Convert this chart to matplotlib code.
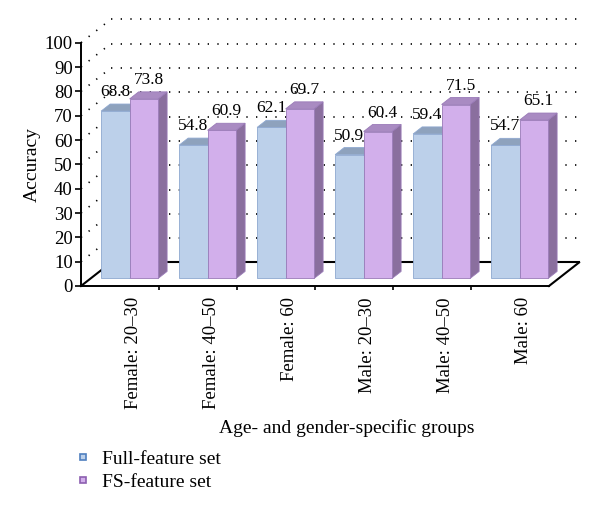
import matplotlib
matplotlib.use("Agg")
import matplotlib.pyplot as plt
from matplotlib.patches import Polygon, Rectangle
from matplotlib.lines import Line2D

groups = ["Female: 20\u201330", "Female: 40\u201350", "Female: 60",
          "Male: 20\u201330", "Male: 40\u201350", "Male: 60"]
full_set = [68.8, 54.8, 62.1, 50.9, 59.4, 54.7]
fs_set = [73.8, 60.9, 69.7, 60.4, 71.5, 65.1]
yticks = list(range(0, 101, 10))

plt.rcParams["font.family"] = "serif"
plt.rcParams["font.serif"] = ["Liberation Serif", "DejaVu Serif"]

W, H = 600, 517
fig = plt.figure(figsize=(W / 100, H / 100), dpi=100)
ax = fig.add_axes([81 / W, (H - 286) / H, 468 / W, 243.3 / H])
n = len(groups)
ax.set_xlim(0, n); ax.set_ylim(0, 100)

# depth of the fake 3D box (data units)
dx, dy = 0.385, 9.66
front, depth, bw = 0.32, 0.30, 0.365

dot = dict(color="black", lw=1.2, ls=(0, (0.8, 5)), clip_on=False, zorder=1)
for v in yticks[1:]:
    ax.plot([0, dx], [v, v + dy], **dot)
    ax.plot([dx, n + dx], [v + dy, v + dy], **dot)
solid = dict(color="black", lw=1.5, clip_on=False, zorder=1)
ax.plot([0, dx], [0, dy], **solid)
ax.plot([dx, n + dx], [dy, dy], **solid)
ax.plot([n, n + dx], [0, dy], **solid)

blue = dict(front="#bcd0ea", top="#8ea2bd", side="#7f93b0", edge="#8ea8d0")
purp = dict(front="#d2afeb", top="#a98bc2", side="#8a6f9e", edge="#9a7bb8")


def bar3d(x0, v, col):
    base = front * dy
    bx, by = depth * dx, depth * dy
    top = [(x0, base + v), (x0 + bw, base + v), (x0 + bw + bx, base + v + by), (x0 + bx, base + v + by)]
    side = [(x0 + bw, base), (x0 + bw, base + v), (x0 + bw + bx, base + v + by), (x0 + bw + bx, base + by)]
    ax.add_patch(Polygon(side, fc=col["side"], ec=col["edge"], lw=0.6, clip_on=False, zorder=3))
    ax.add_patch(Polygon(top, fc=col["top"], ec=col["edge"], lw=0.6, clip_on=False, zorder=3))
    ax.add_patch(Rectangle((x0, base), bw, v, fc=col["front"], ec=col["edge"], lw=0.6, clip_on=False, zorder=4))


for i in range(n):
    c = i + 0.5 + front * dx
    bar3d(c - bw, full_set[i], blue)
    bar3d(c, fs_set[i], purp)
    ax.text(c - bw / 2, front * dy + full_set[i] + 7.8, f"{full_set[i]:.1f}",
            ha="center", va="center", fontsize=12.5, zorder=5)
    ax.text(c + bw / 2 + 0.06, front * dy + fs_set[i] + 7.8, f"{fs_set[i]:.1f}",
            ha="center", va="center", fontsize=12.5, zorder=5)

for s in ["top", "right"]:
    ax.spines[s].set_visible(False)
for s in ["left", "bottom"]:
    ax.spines[s].set_linewidth(1.4)
    ax.spines[s].set_zorder(6)
ax.patch.set_alpha(0)
ax.set_yticks(yticks)
ax.tick_params(axis="y", direction="out", length=4, width=1.2, labelsize=13.5, pad=2)
ax.set_xticks(range(1, n))
ax.set_xticklabels([])
ax.tick_params(axis="x", which="major", direction="out", length=3, width=1.2)
ax.set_xticks([i + 0.5 + 0.17 for i in range(n)], minor=True)
ax.set_xticklabels(groups, minor=True, rotation=90, fontsize=13.5)
ax.tick_params(axis="x", which="minor", length=0, pad=8)

fig.text(32 / W, 1 - 165 / H, "Accuracy", rotation=90, ha="center", va="center", fontsize=14)
fig.text(347 / W, 1 - 428 / H, "Age- and gender-specific groups", ha="center", va="center", fontsize=14)

handles = [Line2D([], [], ls="none", marker="s", ms=5, mfc=blue["front"], mec="#4f7fbf", mew=1.2),
           Line2D([], [], ls="none", marker="s", ms=5, mfc=purp["front"], mec="#8c5fb0", mew=1.2)]
fig.legend(handles, ["Full-feature set", "FS-feature set"], loc="upper left",
           bbox_to_anchor=(78 / W, 1 - 450 / H), frameon=False, fontsize=14,
           handlelength=0.5, handletextpad=0.75, labelspacing=0.3, borderpad=0, borderaxespad=0)

fig.savefig("out.png", dpi=100)
